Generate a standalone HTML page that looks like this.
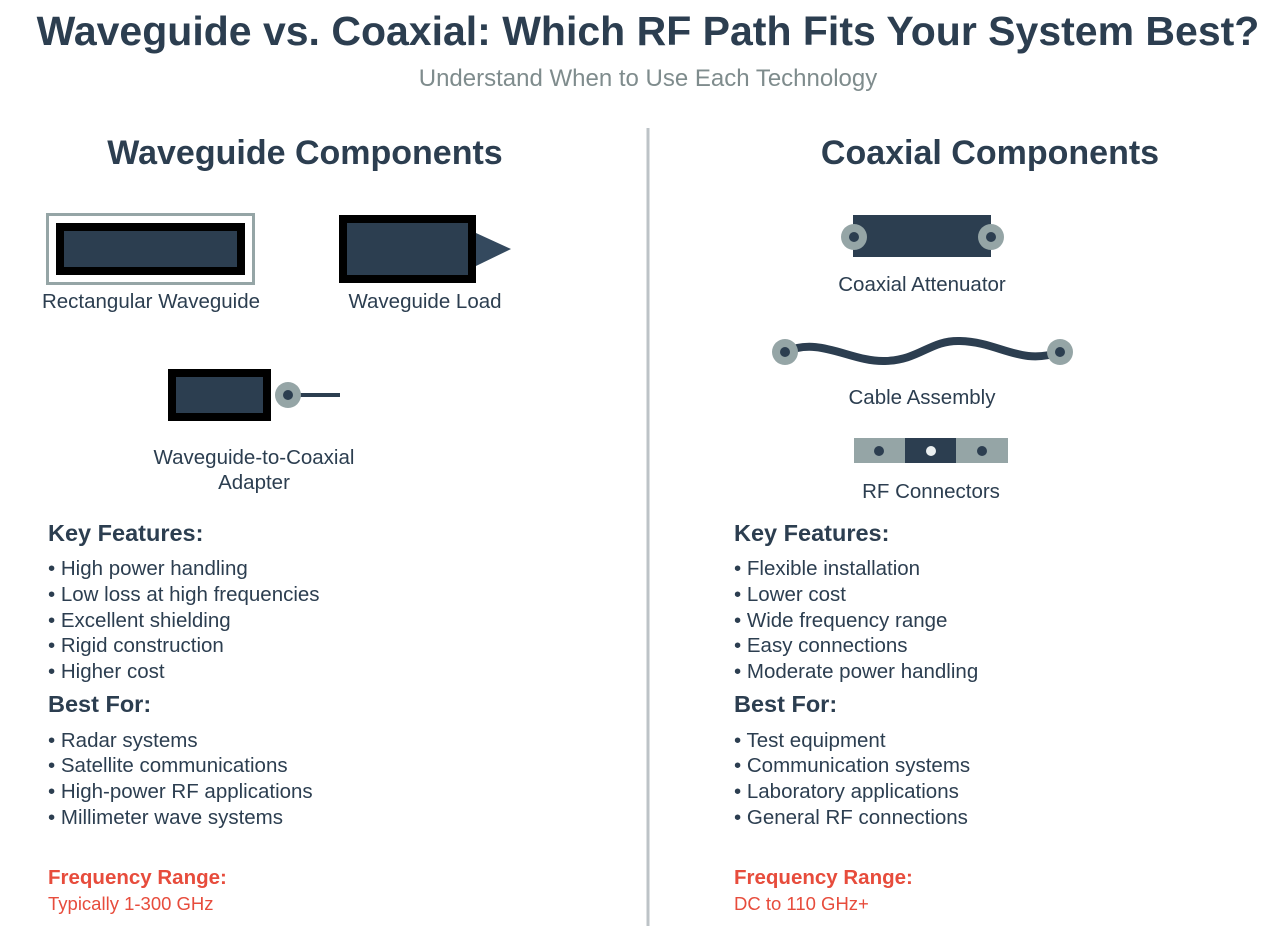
<!DOCTYPE html>
<html><head><meta charset="utf-8"><style>
html,body{margin:0;padding:0;background:#fff;}
svg{display:block;font-family:"Liberation Sans",Arial,sans-serif;}
</style></head><body>
<svg width="1280" height="926" viewBox="0 0 1280 926" xmlns="http://www.w3.org/2000/svg">
<rect width="1280" height="926" fill="#fff"/>
<text x="648" y="45" text-anchor="middle" font-size="41" font-weight="bold" fill="#2c3e50">Waveguide vs. Coaxial: Which RF Path Fits Your System Best?</text>
<text x="648" y="86" text-anchor="middle" font-size="24" fill="#7f8c8d">Understand When to Use Each Technology</text>
<line x1="648" y1="128" x2="648" y2="926" stroke="#bdc3c7" stroke-width="3"/>
<text x="305" y="164" text-anchor="middle" font-size="34" font-weight="bold" fill="#2c3e50">Waveguide Components</text>
<text x="990" y="164" text-anchor="middle" font-size="34" font-weight="bold" fill="#2c3e50">Coaxial Components</text>

<rect x="47.5" y="214.5" width="206" height="69" fill="none" stroke="#95a5a6" stroke-width="3"/>
<rect x="60" y="227" width="181" height="44" fill="#2c3e50" stroke="#000" stroke-width="8"/>
<text x="151" y="308" text-anchor="middle" font-size="20.5" fill="#2c3e50">Rectangular Waveguide</text>
<rect x="343" y="219" width="129" height="60" fill="#2c3e50" stroke="#000" stroke-width="8"/>
<polygon points="476,233 511,249 476,266" fill="#34495e"/>
<text x="425" y="308" text-anchor="middle" font-size="20.5" fill="#2c3e50">Waveguide Load</text>
<rect x="172" y="373" width="95" height="44" fill="#2c3e50" stroke="#000" stroke-width="8"/>
<line x1="300" y1="395" x2="340" y2="395" stroke="#2c3e50" stroke-width="4"/>
<circle cx="288" cy="395" r="13" fill="#95a5a6"/>
<circle cx="288" cy="395" r="5" fill="#2c3e50"/>
<text x="254" y="464" text-anchor="middle" font-size="20.5" fill="#2c3e50">Waveguide-to-Coaxial</text>
<text x="254" y="489" text-anchor="middle" font-size="20.5" fill="#2c3e50">Adapter</text>

<rect x="853" y="215" width="138" height="42" fill="#2c3e50"/>
<circle cx="854" cy="237" r="13" fill="#95a5a6"/><circle cx="854" cy="237" r="5" fill="#2c3e50"/>
<circle cx="991" cy="237" r="13" fill="#95a5a6"/><circle cx="991" cy="237" r="5" fill="#2c3e50"/>
<text x="922" y="291" text-anchor="middle" font-size="20.5" fill="#2c3e50">Coaxial Attenuator</text>
<path d="M785,352 C820,336 850,362 885,361 C920,360 930,340 960,341 C1000,342 1020,366 1060,352" fill="none" stroke="#2c3e50" stroke-width="8"/>
<circle cx="785" cy="352" r="13" fill="#95a5a6"/><circle cx="785" cy="352" r="5" fill="#2c3e50"/>
<circle cx="1060" cy="352" r="13" fill="#95a5a6"/><circle cx="1060" cy="352" r="5" fill="#2c3e50"/>
<text x="922" y="404" text-anchor="middle" font-size="20.5" fill="#2c3e50">Cable Assembly</text>
<rect x="854" y="438" width="51" height="25" fill="#95a5a6"/>
<rect x="905" y="438" width="51" height="25" fill="#2c3e50"/>
<rect x="956" y="438" width="52" height="25" fill="#95a5a6"/>
<circle cx="879" cy="451" r="5" fill="#2c3e50"/>
<circle cx="931" cy="451" r="5" fill="#ecf0f1"/>
<circle cx="982" cy="451" r="5" fill="#2c3e50"/>
<text x="931" y="498" text-anchor="middle" font-size="20.5" fill="#2c3e50">RF Connectors</text>

<g font-size="20.5" fill="#2c3e50">
<text x="48" y="541" font-size="23.5" font-weight="bold">Key Features:</text>
<text x="48" y="575">• High power handling</text>
<text x="48" y="601">• Low loss at high frequencies</text>
<text x="48" y="627">• Excellent shielding</text>
<text x="48" y="652">• Rigid construction</text>
<text x="48" y="678">• Higher cost</text>
<text x="48" y="712" font-size="23.5" font-weight="bold">Best For:</text>
<text x="48" y="747">• Radar systems</text>
<text x="48" y="772">• Satellite communications</text>
<text x="48" y="798">• High-power RF applications</text>
<text x="48" y="824">• Millimeter wave systems</text>

<text x="734" y="541" font-size="23.5" font-weight="bold">Key Features:</text>
<text x="734" y="575">• Flexible installation</text>
<text x="734" y="601">• Lower cost</text>
<text x="734" y="627">• Wide frequency range</text>
<text x="734" y="652">• Easy connections</text>
<text x="734" y="678">• Moderate power handling</text>
<text x="734" y="712" font-size="23.5" font-weight="bold">Best For:</text>
<text x="734" y="747">• Test equipment</text>
<text x="734" y="772">• Communication systems</text>
<text x="734" y="798">• Laboratory applications</text>
<text x="734" y="824">• General RF connections</text>
</g>
<g fill="#e74c3c">
<text x="48" y="884" font-size="20.5" font-weight="bold">Frequency Range:</text>
<text x="48" y="910" font-size="18.5">Typically 1-300 GHz</text>
<text x="734" y="884" font-size="20.5" font-weight="bold">Frequency Range:</text>
<text x="734" y="910" font-size="18.5">DC to 110 GHz+</text>
</g>
</svg>
</body></html>
